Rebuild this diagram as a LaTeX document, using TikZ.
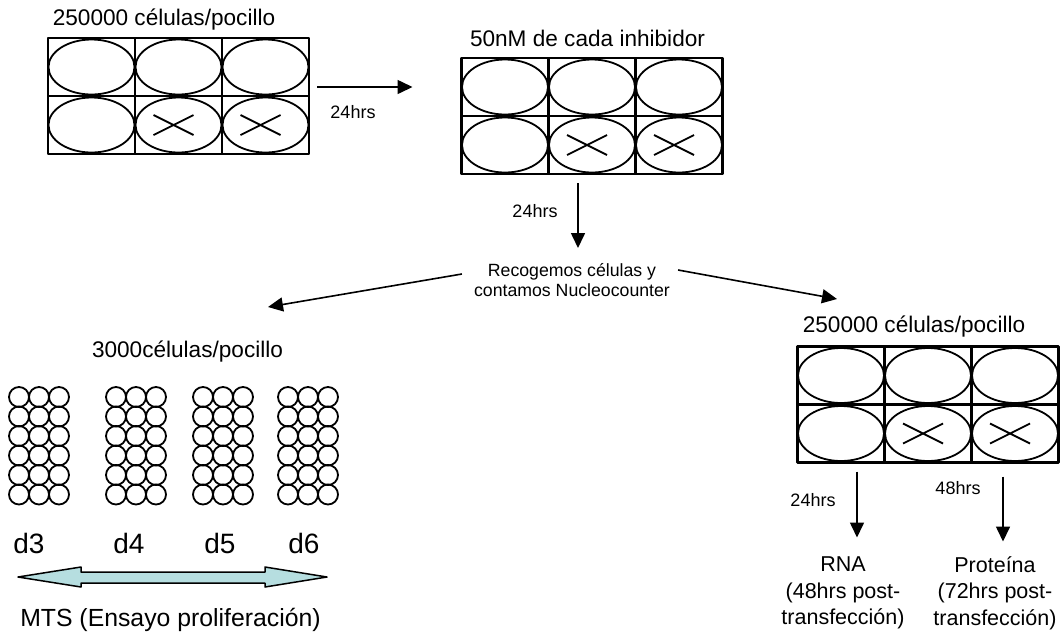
\documentclass[tikz,border=0pt]{standalone}
\usepackage{fontspec}
\setmainfont{Liberation Sans}
\usetikzlibrary{arrows.meta}
\definecolor{mtsfill}{RGB}{182,222,224}

% six-well plate: name, centre x, centre y
\newcommand{\wellplate}[3]{%
\node[plate] (#1) at (#2,#3) {};
\draw[grid] (#2-43.5,#3-58) -- (#2-43.5,#3+58);
\draw[grid] (#2+43.5,#3-58) -- (#2+43.5,#3+58);
\draw[grid] (#2-130.5,#3) -- (#2+130.5,#3);
\foreach \i in {-1,0,1} {
  \foreach \j in {-0.5,0.5}
    \draw[well] (#2+87*\i,#3+58*\j) ellipse (43pt and 27.5pt);
}
\foreach \i in {0,1}
  \draw[well] (#2-25+87*\i,#3+19) -- (#2+15+87*\i,#3+39)
              (#2-25+87*\i,#3+39) -- (#2+15+87*\i,#3+19);
}

\begin{document}
\begin{tikzpicture}[x=1pt,y=-1pt,line join=round,
  plate/.style={draw,line width=2.2pt,minimum width=261pt,minimum height=116pt,inner sep=0pt,outer sep=0pt},
  grid/.style={line width=2.2pt},
  well/.style={line width=1.8pt},
  cell/.style={line width=1.8pt},
  flow/.style={line width=1.6pt,-{Triangle[length=15pt,width=14pt]}},
  big/.style={inner sep=0pt,font=\fontsize{22.6}{27}\selectfont},
  small/.style={inner sep=0pt,font=\fontsize{18}{20}\selectfont},
  mid/.style={inner sep=0pt,align=center,font=\fontsize{21.5}{26.5}\selectfont},
  day/.style={inner sep=0pt,font=\fontsize{28}{30}\selectfont}]
\useasboundingbox (0,0) rectangle (1060,633);

% plates
\wellplate{wellsA}{178.5}{96}
\wellplate{wellsB}{592}{116}
\wellplate{wellsC}{928}{404.5}

\node[big] (seedA) at (164,20) {250000 células/pocillo};
\node[big] (drug) at (587.5,38) {50nM de cada inhibidor};
\node[big] (seedC) at (914,327) {250000 células/pocillo};
\node[big] (seedMTS) at (187.5,352) {3000células/pocillo};

\node[small] (tA) at (353,112) {24hrs};
\node[small] (tB) at (535,211) {24hrs};
\node[small] (tRNA) at (813,500) {24hrs};
\node[small] (tProt) at (958,488) {48hrs};
\node[small,align=center,font=\fontsize{17.7}{20}\selectfont] (collect) at (572,280)
  {Recogemos células y\\contamos Nucleocounter};

\node[mid] (rna) at (843,593) {RNA\\(48hrs post-\\transfección)};
\node[mid] (prot) at (995,593) {Proteína\\(72hrs post-\\transfección)};

% arrows
\coordinate (toMTS) at (268,307);
\coordinate (toC) at (837,299);
\draw[flow] ([xshift=8pt,yshift=9pt]wellsA.east) -- ([xshift=-49pt,yshift=29pt]wellsB.west);
\draw[flow] ([xshift=-14pt,yshift=-9pt]wellsB.south) -- ++(0,65);
\draw[flow] ([xshift=-12pt,yshift=6pt]collect.west) -- (toMTS);
\draw[flow] ([xshift=8pt,yshift=10pt]collect.east) -- (toC);
\draw[flow] ([xshift=-71pt,yshift=-9pt]wellsC.south) -- ++(0,66);
\draw[flow] ([xshift=75pt,yshift=-14pt]wellsC.south) -- ++(0,65);

% 96-well columns
\foreach \gx in {19,116,203,288} {
  \foreach \cx in {0,1,2} {
    \foreach \ry in {0,...,5}
      \draw[cell] (\gx+20*\cx,397+19.5*\ry) circle (10pt);
  }
}

\node[day] (d3) at (29,543) {d3};
\node[day] (d4) at (129,543) {d4};
\node[day] (d5) at (220,543) {d5};
\node[day] (d6) at (304,543) {d6};

\filldraw[fill=mtsfill,line width=1.5pt] (18,577) -- (81,567) -- (81,572) -- (265,572) -- (265,567)
  -- (327,577) -- (265,587) -- (265,583) -- (81,583) -- (81,587) -- cycle;
\node[inner sep=0pt,font=\fontsize{24.8}{28}\selectfont] (mts) at (170.5,620) {MTS (Ensayo proliferación)};
\end{tikzpicture}
\end{document}
